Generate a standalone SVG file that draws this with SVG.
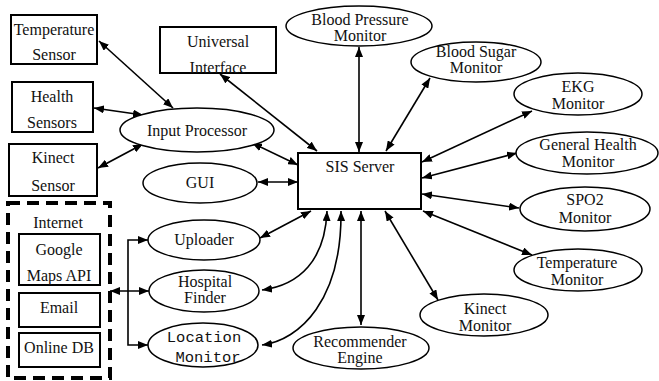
<svg xmlns="http://www.w3.org/2000/svg" width="659" height="381" viewBox="0 0 659 381">
<style>
.box{fill:#fff;stroke:#000;stroke-width:2}
.ell{fill:#fff;stroke:#000;stroke-width:1.5}
.t{font-family:"Liberation Serif","Times New Roman",serif;font-size:16px;fill:#111;text-anchor:middle}
.m{font-family:"Liberation Mono","Courier New",monospace;font-size:15.5px;fill:#111;text-anchor:middle}
.c{fill:none;stroke:#000;stroke-width:1.6;marker-start:url(#ah);marker-end:url(#ah)}
.p{fill:none;stroke:#000;stroke-width:1.6}
</style>
<defs>
<marker id="ah" viewBox="0 0 10 8" refX="10" refY="4" markerWidth="10" markerHeight="8" markerUnits="userSpaceOnUse" orient="auto-start-reverse">
<path d="M0,0 L10,4 L0,8 z" fill="#000"/>
</marker>
</defs>
<rect x="0" y="0" width="659" height="381" fill="#fff"/>
<g id="connectors">
<line class="c" x1="99" y1="41" x2="173" y2="108"/>
<line class="c" x1="94" y1="108" x2="143" y2="115"/>
<line class="c" x1="98" y1="168" x2="143" y2="144"/>
<line class="c" x1="220" y1="74" x2="317" y2="151"/>
<line class="c" x1="252" y1="143" x2="298" y2="165"/>
<line class="c" x1="258" y1="182" x2="298" y2="182"/>
<line class="c" x1="359" y1="47" x2="359" y2="152"/>
<line class="c" x1="430" y1="78" x2="386" y2="151"/>
<line class="c" x1="532" y1="111" x2="422" y2="162"/>
<line class="c" x1="517" y1="153" x2="422" y2="178"/>
<line class="c" x1="519" y1="208" x2="422" y2="194"/>
<line class="c" x1="532" y1="255" x2="423" y2="211"/>
<line class="c" x1="438" y1="300" x2="385" y2="211"/>
<line class="c" x1="361" y1="325" x2="361" y2="211"/>
<line class="c" x1="260" y1="238" x2="311" y2="211"/>
<path class="c" d="M262,290 C300,285 325,260 327,211"/>
<path class="c" d="M262,345 C300,340 342,300 341,211"/>
<line class="c" x1="110" y1="291" x2="149" y2="291"/>
<path class="p" d="M148,240 L128,240 L128,345 L148,345"/>
<line x1="128" y1="240" x2="148" y2="240" stroke="none" marker-end="url(#ah)"/>
<line x1="128" y1="345" x2="148" y2="345" stroke="none" marker-end="url(#ah)"/>
</g>
<g id="temperature-sensor"><rect class="box" x="11" y="15" width="86" height="49"/><text class="t" x="54" y="35">Temperature</text><text class="t" x="54" y="60">Sensor</text></g>
<g id="health-sensors"><rect class="box" x="12" y="82" width="81" height="50"/><text class="t" x="52" y="102">Health</text><text class="t" x="52" y="128">Sensors</text></g>
<g id="kinect-sensor"><rect class="box" x="9" y="144" width="88" height="52"/><text class="t" x="53" y="163">Kinect</text><text class="t" x="53" y="191">Sensor</text></g>
<g id="universal-interface"><rect class="box" x="160" y="27" width="116" height="46"/><text class="t" x="218" y="47">Universal</text><text class="t" x="218" y="73">Interface</text></g>
<g id="input-processor"><ellipse class="ell" cx="197" cy="130" rx="77" ry="22"/><text class="t" x="197" y="136">Input Processor</text></g>
<g id="gui"><ellipse class="ell" cx="200" cy="183" rx="57" ry="20"/><text class="t" x="200" y="188">GUI</text></g>
<g id="sis-server"><rect class="box" x="298" y="153" width="123" height="56"/><text class="t" x="360" y="172">SIS Server</text></g>
<g id="blood-pressure-monitor"><ellipse class="ell" cx="359" cy="26" rx="73" ry="20"/><text class="t" x="360" y="25">Blood Pressure</text><text class="t" x="360" y="41">Monitor</text></g>
<g id="blood-sugar-monitor"><ellipse class="ell" cx="476" cy="62" rx="65" ry="20"/><text class="t" x="476" y="57">Blood Sugar</text><text class="t" x="476" y="73">Monitor</text></g>
<g id="ekg-monitor"><ellipse class="ell" cx="578" cy="94" rx="64" ry="21"/><text class="t" x="578" y="92">EKG</text><text class="t" x="578" y="109">Monitor</text></g>
<g id="general-health-monitor"><ellipse class="ell" cx="587" cy="153" rx="71" ry="21"/><text class="t" x="588" y="150">General Health</text><text class="t" x="588" y="167">Monitor</text></g>
<g id="spo2-monitor"><ellipse class="ell" cx="585" cy="209" rx="65" ry="22"/><text class="t" x="585" y="205">SPO2</text><text class="t" x="585" y="223">Monitor</text></g>
<g id="temperature-monitor"><ellipse class="ell" cx="578" cy="270" rx="64" ry="21"/><text class="t" x="577" y="268">Temperature</text><text class="t" x="577" y="285">Monitor</text></g>
<g id="kinect-monitor"><ellipse class="ell" cx="484" cy="315" rx="64" ry="21"/><text class="t" x="485" y="314">Kinect</text><text class="t" x="485" y="331">Monitor</text></g>
<g id="recommender-engine"><ellipse class="ell" cx="361" cy="348" rx="68" ry="21"/><text class="t" x="360" y="347">Recommender</text><text class="t" x="360" y="363">Engine</text></g>
<g id="uploader"><ellipse class="ell" cx="204" cy="240" rx="56" ry="20"/><text class="t" x="204" y="245">Uploader</text></g>
<g id="hospital-finder"><ellipse class="ell" cx="204" cy="291" rx="55" ry="21"/><text class="t" x="205" y="287">Hospital</text><text class="t" x="205" y="303">Finder</text></g>
<g id="location-monitor"><ellipse class="ell" cx="203" cy="345" rx="55" ry="22"/><text class="m" x="204" y="342">Location</text><text class="m" x="208" y="362">Monitor</text></g>
<g id="internet"><rect x="8" y="203" width="102" height="175" fill="none" stroke="#000" stroke-width="4" stroke-dasharray="12,7"/><text class="t" x="58" y="228">Internet</text></g>
<g id="google-maps-api"><rect class="box" x="19" y="234" width="81" height="51"/><text class="t" x="59" y="255">Google</text><text class="t" x="59" y="281">Maps API</text></g>
<g id="email"><rect class="box" x="19" y="293" width="81" height="34"/><text class="t" x="59" y="313">Email</text></g>
<g id="online-db"><rect class="box" x="19" y="333" width="81" height="34"/><text class="t" x="59" y="353">Online DB</text></g>
</svg>
